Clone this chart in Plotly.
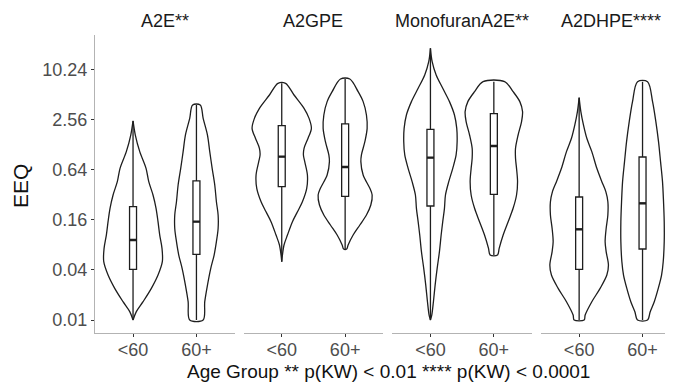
import plotly.graph_objects as go

# ---------------- data ----------------
compounds = ["A2E**", "A2GPE", "MonofuranA2E**", "A2DHPE****"]
age_groups = ["<60", "60+"]
y_ticks = [0.01, 0.04, 0.16, 0.64, 2.56, 10.24]
y_tick_labels = ["0.01", "0.04", "0.16", "0.64", "2.56", "10.24"]

# violin outlines (EEQ level, half width in category units), top -> bottom
a2e_lt60_eeq = [2.47, 1.67, 1.055, 0.665, 0.460, 0.318, 0.220, 0.152, 0.105, 0.0727, 0.0502, 0.0347, 0.0240, 0.0166, 0.0126, 0.01]
a2e_lt60_w = [0, 0.036, 0.106, 0.205, 0.248, 0.315, 0.363, 0.394, 0.421, 0.457, 0.462, 0.394, 0.289, 0.158, 0.052, 0]
a2e_ge60_eeq = [3.84, 2.65, 1.67, 1.055, 0.665, 0.419, 0.264, 0.183, 0.126, 0.0874, 0.0604, 0.0418, 0.0263, 0.0166, 0.01]
a2e_ge60_w = [0.060, 0.106, 0.174, 0.210, 0.248, 0.289, 0.315, 0.342, 0.342, 0.315, 0.279, 0.226, 0.174, 0.131, 0.106]

a2gpe_lt60_eeq = [6.99, 5.06, 3.50, 2.65, 2.01, 1.53, 1.157, 0.962, 0.800, 0.553, 0.382, 0.264, 0.200, 0.152, 0.105, 0.0797, 0.0604, 0.0502]
a2gpe_lt60_w = [0.060, 0.194, 0.352, 0.431, 0.468, 0.415, 0.352, 0.342, 0.363, 0.405, 0.394, 0.326, 0.248, 0.169, 0.090, 0.036, 0.011, 0]
a2gpe_ge60_eeq = [7.88, 5.55, 4.21, 2.91, 2.01, 1.391, 0.962, 0.800, 0.553, 0.382, 0.318, 0.241, 0.183, 0.1386, 0.105, 0.0797, 0.0714]
a2gpe_ge60_w = [0.074, 0.205, 0.284, 0.336, 0.347, 0.311, 0.257, 0.248, 0.284, 0.390, 0.426, 0.405, 0.336, 0.232, 0.126, 0.047, 0.024]

mono_lt60_eeq = [18.4, 12.7, 8.80, 6.09, 4.21, 2.91, 2.01, 1.391, 0.962, 0.665, 0.460, 0.318, 0.220, 0.152, 0.105, 0.0663, 0.0418, 0.0263, 0.0166, 0.01148, 0.01]
mono_lt60_w = [0, 0.027, 0.090, 0.194, 0.300, 0.379, 0.415, 0.421, 0.405, 0.352, 0.289, 0.237, 0.221, 0.194, 0.169, 0.142, 0.106, 0.074, 0.047, 0.021, 0]
mono_ge60_eeq = [7.32, 5.55, 4.21, 3.19, 2.42, 1.673, 1.157, 0.877, 0.665, 0.460, 0.318, 0.220, 0.152, 0.105, 0.0727, 0.0604]
mono_ge60_w = [0.170, 0.304, 0.410, 0.453, 0.437, 0.383, 0.342, 0.342, 0.358, 0.374, 0.358, 0.304, 0.226, 0.147, 0.084, 0.058]

a2dhpe_lt60_eeq = [4.70, 3.19, 2.21, 1.526, 1.055, 0.665, 0.460, 0.349, 0.264, 0.183, 0.126, 0.0874, 0.0663, 0.0458, 0.0347, 0.0240, 0.0166, 0.01148, 0.01]
a2dhpe_lt60_w = [0, 0.027, 0.068, 0.121, 0.200, 0.279, 0.358, 0.421, 0.453, 0.453, 0.426, 0.410, 0.426, 0.462, 0.437, 0.331, 0.200, 0.095, 0.079]
a2dhpe_ge60_eeq = [7.32, 4.21, 2.42, 1.391, 0.800, 0.460, 0.264, 0.152, 0.0874, 0.0502, 0.0347, 0.0240, 0.0166, 0.0126, 0.01]
a2dhpe_ge60_w = [0.079, 0.158, 0.210, 0.252, 0.284, 0.315, 0.331, 0.342, 0.342, 0.326, 0.300, 0.248, 0.185, 0.121, 0.079]

# box statistics per compound: [<60, 60+]
box_q1 = [[0.0406, 0.0616], [0.400, 0.306], [0.2346, 0.324], [0.0406, 0.0714]]
box_median = [[0.0916, 0.152], [0.919, 0.690], [0.894, 1.234], [0.123, 0.2525]]
box_q3 = [[0.230, 0.469], [2.17, 2.27], [1.957, 3.02], [0.301, 0.910]]
box_min = [[0.01, 0.01], [0.0502, 0.0714], [0.01, 0.0604], [0.01, 0.01]]
box_max = [[2.47, 3.84], [6.99, 7.88], [18.4, 7.32], [4.70, 7.32]]

violins = [
    [(a2e_lt60_eeq, a2e_lt60_w), (a2e_ge60_eeq, a2e_ge60_w)],
    [(a2gpe_lt60_eeq, a2gpe_lt60_w), (a2gpe_ge60_eeq, a2gpe_ge60_w)],
    [(mono_lt60_eeq, mono_lt60_w), (mono_ge60_eeq, mono_ge60_w)],
    [(a2dhpe_lt60_eeq, a2dhpe_lt60_w), (a2dhpe_ge60_eeq, a2dhpe_ge60_w)],
]

# ---------------- figure ----------------
OFF = 8  # page body margin offset
W, H = 673 - OFF, 384 - OFF
ML, MT, MB = 95 - OFF, 35 - OFF, 51
plot_w = W - ML
plot_h = H - MT - MB
unit_px = 63.4
panel_w = 139.5
panel_step = 148.7
box_w = 0.11
axis_grey = "#b3b3b3"
line_col = "#1e1e1e"
font_family = "Liberation Sans, Arial, sans-serif"


def px_to_paper_y(y_page):
    return (H - MB - (y_page - OFF)) / plot_h


def px_to_paper_x(x_page):
    return ((x_page - OFF) - ML) / plot_w


fig = go.Figure()
layout_axes = {}
for i, comp in enumerate(compounds):
    xa = "x" if i == 0 else f"x{i+1}"
    start = i * panel_step
    end = min(start + panel_w, plot_w)
    dom = [start / plot_w, end / plot_w]
    rng = [0.4, 0.4 + (end - start) / unit_px]
    for j, grp in enumerate(age_groups):
        pos = j + 1
        eeq, w = violins[i][j]
        xs = [pos + v for v in w[::-1]] + [pos - v for v in w]
        ys = list(eeq[::-1]) + list(eeq)
        xs.append(xs[0])
        ys.append(ys[0])
        fig.add_trace(go.Scatter(
            x=xs, y=ys, xaxis=xa, yaxis="y", mode="lines",
            line=dict(color=line_col, width=1.3, shape="spline", smoothing=0.9),
            hoverinfo="skip", showlegend=False))
        fig.add_trace(go.Box(
            x=[pos], q1=[box_q1[i][j]], median=[box_median[i][j]], q3=[box_q3[i][j]],
            lowerfence=[box_min[i][j]], upperfence=[box_max[i][j]],
            xaxis=xa, yaxis="y", width=box_w, whiskerwidth=0,
            line=dict(color=line_col, width=1.3), fillcolor="white",
            boxpoints=False, showlegend=False))
        # emphasised median bar (ggplot draws it thicker)
        fig.add_trace(go.Scatter(
            x=[pos - box_w / 2, pos + box_w / 2], y=[box_median[i][j]] * 2,
            xaxis=xa, yaxis="y", mode="lines",
            line=dict(color=line_col, width=2.4), hoverinfo="skip", showlegend=False))
    key = "xaxis" if i == 0 else f"xaxis{i+1}"
    layout_axes[key] = dict(
        domain=dom, range=rng, anchor="y", tickmode="array", automargin=False,
        tickvals=[1, 2], ticktext=age_groups, showline=True, linecolor=axis_grey,
        linewidth=1.2, ticks="outside", ticklen=3, tickcolor="#333333", tickwidth=1,
        ticklabelstandoff=-3,
        showgrid=False, zeroline=False,
        tickfont=dict(size=18, color="#4d4d4d", family=font_family))
    cx = (start + panel_w / 2) / plot_w
    fig.add_annotation(x=cx, y=px_to_paper_y(21), xref="paper", yref="paper", text=comp,
                       showarrow=False, xanchor="center", yanchor="middle",
                       font=dict(size=18, color="#1a1a1a", family=font_family))

fig.update_layout(
    template="none",
    width=W, height=H, margin=dict(l=ML, r=0, t=MT, b=MB, autoexpand=False),
    paper_bgcolor="white", plot_bgcolor="white", showlegend=False,
    yaxis=dict(type="log", range=[-2.156, 1.425], anchor="x", automargin=False,
               tickmode="array", tickvals=y_ticks, ticktext=y_tick_labels,
               showline=True, linecolor=axis_grey, linewidth=1.2,
               ticks="outside", ticklen=3, tickcolor="#333333", showgrid=False,
               zeroline=False,
               tickfont=dict(size=18, color="#4d4d4d", family=font_family)),
    **layout_axes,
)
fig.add_annotation(x=px_to_paper_x(20), y=px_to_paper_y(186), xref="paper", yref="paper", text="EEQ",
                   textangle=-90, showarrow=False, xanchor="center", yanchor="middle",
                   font=dict(size=21, color="#111111", family=font_family))
fig.add_annotation(x=px_to_paper_x(388), y=px_to_paper_y(371), xref="paper", yref="paper",
                   text="Age Group ** p(KW) < 0.01 **** p(KW) < 0.0001",
                   showarrow=False, xanchor="center", yanchor="middle",
                   font=dict(size=19, color="#111111", family=font_family))

fig.write_html("out.html")
